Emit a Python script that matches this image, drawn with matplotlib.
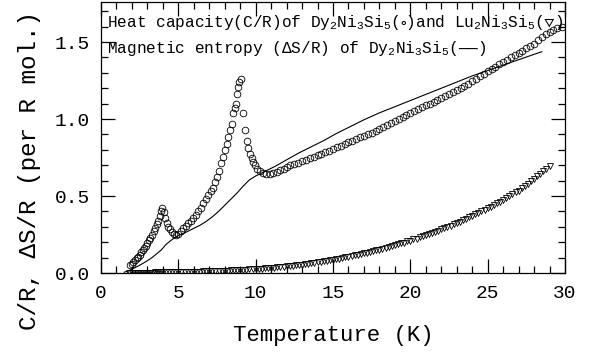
import matplotlib
matplotlib.use("Agg")
import matplotlib.pyplot as plt
from matplotlib.ticker import MultipleLocator, FormatStrFormatter

# font close to the old plotting-package look
plt.rcParams['font.family'] = ['Liberation Mono', 'DejaVu Sans Mono']
plt.rcParams['mathtext.fontset'] = 'custom'
plt.rcParams['mathtext.rm'] = 'Liberation Mono'
plt.rcParams['mathtext.it'] = 'Liberation Mono'
plt.rcParams['mathtext.fallback'] = 'stix'

# Dy2Ni3Si5 heat capacity C/R (open circles)
T_dy = [1.90, 2.00, 2.10, 2.20, 2.30, 2.40, 2.50, 2.60, 2.70, 2.80, 2.90, 3.00,
        3.10, 3.20, 3.30, 3.40, 3.50, 3.60, 3.70, 3.80, 3.88, 3.95, 4.05, 4.14,
        4.25, 4.36, 4.46, 4.60, 4.72, 4.85, 5.00, 5.15, 5.32, 5.50, 5.65, 5.80,
        5.97, 6.12, 6.28, 6.45, 6.61, 6.77, 6.93, 7.10, 7.22, 7.35, 7.48, 7.60,
        7.73, 7.86, 8.00, 8.12, 8.23, 8.35, 8.45, 8.55, 8.65, 8.73, 8.82, 8.88,
        8.95, 9.02, 9.20, 9.31, 9.42, 9.52, 9.63, 9.74, 9.85, 9.95, 10.10, 10.28,
        10.50, 10.70, 10.90, 11.10, 11.35, 11.60, 11.80, 12.00, 12.25, 12.50,
        12.75, 13.00, 13.25, 13.50, 13.75, 14.00, 14.25, 14.50, 14.75, 15.00,
        15.25, 15.50, 15.75, 16.00, 16.25, 16.50, 16.75, 17.00, 17.25, 17.50,
        17.75, 18.00, 18.25, 18.50, 18.75, 19.00, 19.25, 19.50, 19.75, 20.00,
        20.25, 20.50, 20.75, 21.00, 21.25, 21.50, 21.75, 22.00, 22.25, 22.50,
        22.75, 23.00, 23.25, 23.50, 23.75, 24.00, 24.25, 24.50, 24.75, 25.00,
        25.25, 25.50, 25.75, 26.00, 26.25, 26.50, 26.75, 27.00, 27.25, 27.50,
        27.75, 28.00, 28.25, 28.50, 28.75, 29.00, 29.25, 29.50, 29.80]
C_dy = [0.050, 0.058, 0.070, 0.082, 0.095, 0.107, 0.120, 0.134, 0.147, 0.162,
        0.178, 0.195, 0.212, 0.230, 0.250, 0.270, 0.292, 0.315, 0.340, 0.370,
        0.400, 0.425, 0.395, 0.355, 0.325, 0.300, 0.285, 0.265, 0.252, 0.247,
        0.255, 0.270, 0.290, 0.305, 0.322, 0.338, 0.355, 0.378, 0.400, 0.425,
        0.453, 0.480, 0.508, 0.535, 0.555, 0.590, 0.625, 0.665, 0.712, 0.755,
        0.800, 0.840, 0.885, 0.930, 0.970, 1.037, 1.070, 1.100, 1.160, 1.210,
        1.240, 1.262, 1.037, 0.930, 0.860, 0.810, 0.775, 0.745, 0.720, 0.700,
        0.678, 0.660, 0.650, 0.645, 0.645, 0.650, 0.658, 0.668, 0.678, 0.690,
        0.700, 0.708, 0.716, 0.726, 0.736, 0.745, 0.755, 0.765, 0.775, 0.785,
        0.795, 0.806, 0.817, 0.828, 0.840, 0.850, 0.860, 0.870, 0.880, 0.890,
        0.900, 0.912, 0.925, 0.937, 0.950, 0.962, 0.975, 0.987, 1.000, 1.012,
        1.025, 1.037, 1.050, 1.062, 1.075, 1.088, 1.100, 1.112, 1.125, 1.138,
        1.150, 1.163, 1.176, 1.190, 1.203, 1.217, 1.230, 1.245, 1.260, 1.278,
        1.295, 1.310, 1.325, 1.340, 1.355, 1.370, 1.385, 1.400, 1.415, 1.430,
        1.445, 1.460, 1.475, 1.490, 1.510, 1.530, 1.550, 1.565, 1.580, 1.590,
        1.600]

# Lu2Ni3Si5 heat capacity C/R (open down triangles)
T_lu = [1.8, 1.9, 2.0, 2.1, 2.2, 2.3, 2.4, 2.5, 2.6, 2.7, 2.8, 2.9, 3.0, 3.1,
        3.2, 3.3, 3.4, 3.5, 3.6, 3.7, 3.8, 3.9,
        4.0, 4.2, 4.4, 4.6, 4.8, 5.0, 5.2, 5.4, 5.6, 5.8, 6.0, 6.2, 6.4, 6.6,
        6.8, 7.0, 7.2, 7.4, 7.6, 7.8, 8.0, 8.2, 8.4, 8.6, 8.8, 9.0, 9.2, 9.4,
        9.6, 9.8, 10.0, 10.2, 10.4, 10.6, 10.8, 11.0, 11.2, 11.4, 11.6, 11.8,
        12.0, 12.2, 12.4, 12.6, 12.8, 13.0, 13.2, 13.4, 13.6, 13.8, 14.0, 14.2,
        14.4, 14.6, 14.8, 15.0, 15.2, 15.4, 15.6, 15.8, 16.0, 16.2, 16.4, 16.6,
        16.8, 17.0, 17.2, 17.4, 17.6, 17.8, 18.0, 18.2, 18.4, 18.6, 18.8, 19.0,
        19.2, 19.4, 19.6, 19.8, 20.0, 20.2, 20.4, 20.6, 20.8, 21.0, 21.2, 21.4,
        21.6, 21.8, 22.0, 22.2, 22.4, 22.6, 22.8, 23.0, 23.2, 23.4, 23.6, 23.8,
        24.0, 24.2, 24.4, 24.6, 24.8, 25.0, 25.2, 25.4, 25.6, 25.8, 26.0, 26.2,
        26.4, 26.6, 26.8, 27.0, 27.2, 27.4, 27.6, 27.8, 28.0, 28.2, 28.4, 28.6,
        28.8, 29.0]
C_lu = [0.001, 0.001, 0.001, 0.001, 0.002, 0.002, 0.002, 0.002, 0.002, 0.002,
        0.003, 0.003, 0.003, 0.003, 0.003, 0.003, 0.003, 0.004, 0.004, 0.004,
        0.004, 0.004,
        0.004, 0.004, 0.005, 0.005, 0.006, 0.006, 0.006, 0.007, 0.007, 0.008,
        0.008, 0.009, 0.009, 0.010, 0.010, 0.011, 0.012, 0.012, 0.013, 0.014,
        0.015, 0.016, 0.017, 0.018, 0.019, 0.020, 0.021, 0.022, 0.023, 0.025,
        0.026, 0.027, 0.029, 0.030, 0.032, 0.033, 0.035, 0.037, 0.039, 0.041,
        0.043, 0.045, 0.047, 0.050, 0.052, 0.055, 0.058, 0.060, 0.063, 0.066,
        0.069, 0.072, 0.076, 0.079, 0.082, 0.086, 0.090, 0.093, 0.097, 0.101,
        0.105, 0.109, 0.114, 0.118, 0.122, 0.127, 0.132, 0.137, 0.142, 0.147,
        0.152, 0.157, 0.163, 0.168, 0.174, 0.180, 0.186, 0.192, 0.198, 0.205,
        0.211, 0.218, 0.224, 0.231, 0.238, 0.245, 0.252, 0.260, 0.267, 0.275,
        0.283, 0.291, 0.299, 0.308, 0.316, 0.325, 0.334, 0.343, 0.352, 0.361,
        0.370, 0.380, 0.390, 0.400, 0.410, 0.420, 0.431, 0.442, 0.453, 0.464,
        0.475, 0.487, 0.499, 0.511, 0.523, 0.535, 0.550, 0.565, 0.580, 0.595,
        0.610, 0.627, 0.644, 0.661, 0.678, 0.695]

# magnetic entropy dS/R of Dy2Ni3Si5 (solid line)
T_s = [1.5, 1.8, 2.1, 2.4, 2.7, 3.0, 3.3, 3.6, 3.9, 4.2, 4.5, 4.8, 5.1, 5.5,
       6.0, 6.4, 6.8, 7.2, 7.6, 8.0, 8.4, 8.8, 9.2, 9.6, 10.0, 10.4, 10.8,
       11.3, 12.0, 12.8, 13.6, 14.4, 15.2, 16.0, 17.0, 18.0, 19.0, 20.0, 21.0,
       22.0, 23.0, 24.0, 25.0, 26.0, 27.0, 28.0, 28.5]
S_s = [0.005, 0.015, 0.030, 0.045, 0.062, 0.080, 0.100, 0.125, 0.150, 0.185,
       0.210, 0.232, 0.248, 0.265, 0.290, 0.310, 0.335, 0.365, 0.400, 0.440,
       0.480, 0.520, 0.565, 0.605, 0.630, 0.650, 0.670, 0.695, 0.735, 0.780,
       0.820, 0.860, 0.905, 0.945, 0.995, 1.040, 1.080, 1.120, 1.160, 1.200,
       1.240, 1.280, 1.315, 1.350, 1.385, 1.420, 1.437]

W, H = 595, 356
fig = plt.figure(figsize=(W / 100, H / 100), dpi=100)
ax = fig.add_axes([101 / W, 83 / H, 464 / W, 271 / H])

ax.plot(T_lu, C_lu, 'v', ms=4.0, mfc='none', mec='black', mew=0.6)
ax.plot(T_dy, C_dy, 'o', ms=4.8, mfc='none', mec='black', mew=0.6)
ax.plot(T_s, S_s, '-', color='black', lw=0.8)

ax.set_xlim(0, 30)
ax.set_ylim(0, 1.76)
ax.xaxis.set_major_locator(MultipleLocator(5))
ax.xaxis.set_minor_locator(MultipleLocator(1))
ax.yaxis.set_major_locator(MultipleLocator(0.5))
ax.yaxis.set_minor_locator(MultipleLocator(0.1))
ax.yaxis.set_major_formatter(FormatStrFormatter('%.1f'))
ax.tick_params(which='both', direction='in', top=True, right=True,
               width=0.9, color='black')
ax.tick_params(which='major', length=10, labelsize=14)
ax.tick_params(which='minor', length=5)
ax.tick_params(axis='x', which='major', pad=9)
ax.tick_params(axis='y', which='major', pad=8)
for sp in ax.spines.values():
    sp.set_linewidth(0.9)

fig.text(333 / W, 1 - 336 / H, 'Temperature (K)', fontsize=16,
         ha='center', va='center')
fig.text(30 / W, 1 - 170 / H, 'C/R, \u0394S/R (per R mol.)', fontsize=17.5,
         rotation=90, ha='center', va='center')

fig.text(107 / W, 1 - 27 / H,
         r'Heat capacity(C/R)of Dy$_2$Ni$_3$Si$_5$($\circ$)and '
         r'Lu$_2$Ni$_3$Si$_5$($\triangledown$)',
         fontsize=11.6, ha='left', va='baseline')
fig.text(107 / W, 1 - 53 / H,
         'Magnetic entropy ($\\Delta$S/R) of Dy$_2$Ni$_3$Si$_5$(\u2014\u2014)',
         fontsize=11.6, ha='left', va='baseline')

fig.savefig('out.png', dpi=100)
